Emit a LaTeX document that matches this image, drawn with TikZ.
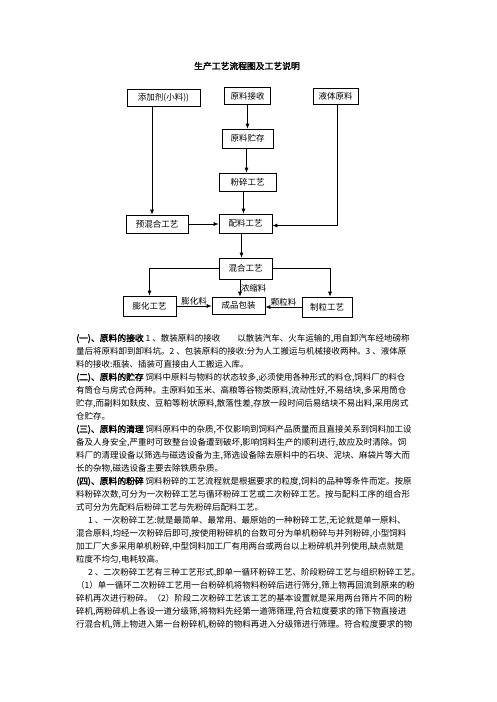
\documentclass[tikz,border=0pt]{standalone}
\usepackage{fontspec}
\setmainfont{Noto Sans CJK SC}
\newfontfamily\hdfont{Noto Sans CJK SC}[FakeBold=2]
\XeTeXlinebreaklocale "zh"
\XeTeXlinebreakskip=0pt plus 2pt minus 0.2pt
\XeTeXlinebreakpenalty=10000
\usetikzlibrary{arrows.meta}

\tikzset{
  box/.style={shape=rectangle,draw=black,line width=0.7pt,inner sep=0pt,font=\fontsize{8.5}{10}\selectfont},
  flow/.style={draw=black,line width=0.7pt,-{Latex[length=5pt,width=4pt]}},
  lbl/.style={inner sep=0.5pt,font=\fontsize{8.5}{10}\selectfont},
  full/.style={anchor=west,inner sep=0pt,text width=346pt,align=justify,font=\fontsize{8.5}{13}\selectfont},
  tail/.style={anchor=west,inner sep=0pt,font=\fontsize{8.5}{13}\selectfont}
}
\newcommand{\hd}[1]{{\hdfont\fontsize{8.8}{13}\selectfont #1}}
\newcommand{\fl}{\parfillskip=0pt\relax}

\begin{document}
\begin{tikzpicture}[x=1pt,y=-1pt]
    \useasboundingbox (0,0) rectangle (496,702);
    \node (title) [font=\hdfont\fontsize{8.8}{11}\selectfont] at (247,66) {生产工艺流程图及工艺说明};

    % flow chart
    \node (add) [box,minimum width=73,minimum height=17] at (163.5,97.5) {添加剂(小料))};
    \node (recv) [box,minimum width=46,minimum height=17] at (247.5,96) {原料接收};
    \node (liquid) [box,minimum width=45,minimum height=16] at (335.5,96) {液体原料};
    \node (store) [box,minimum width=51,minimum height=19] at (247.5,138.5) {原料贮存};
    \node (crush) [box,minimum width=57,minimum height=18] at (247.5,182) {粉碎工艺};
    \node (premix) [box,minimum width=62,minimum height=18] at (157,224) {预混合工艺};
    \node (batch) [box,minimum width=53,minimum height=19] at (245.5,223.5) {配料工艺};
    \node (mix) [box,minimum width=53,minimum height=21] at (245.5,268.5) {混合工艺};
    \node (puff) [box,minimum width=53,minimum height=20] at (149.5,306) {膨化工艺};
    \node (pack) [box,minimum width=53,minimum height=17] at (238.5,305.5) {成品包装};
    \node (pellet) [box,minimum width=50,minimum height=20] at (327,307) {制粒工艺};

    \draw[flow] (recv) -- (store);
    \draw[flow] ([xshift=-1]store.south) -- ([xshift=-1]store.south |- crush.north);
    \draw[flow] ([xshift=-4]crush.south) -- ([xshift=-4]crush.south |- batch.north);
    \draw[flow] ([xshift=-5]premix.north |- add.south) -- ([xshift=-5]premix.north);
    \draw[flow] (premix.east) -- (premix.east -| batch.west);
    \draw[flow] ([xshift=2]liquid.south) |- ([yshift=-2]batch.east);
    \draw[flow] ([xshift=-4]batch.south) -- ([xshift=-4]batch.south |- mix.north);
    \draw[flow] (mix.west) -| (puff.north);
    \draw[flow] (mix.east) -| ([xshift=3]pellet.north);
    \draw[flow] ([xshift=1.5]pack.north |- mix.south) -- node[lbl,right] (lconc) {浓缩料} ([xshift=1.5]pack.north);
    \draw[flow] (puff.east) -- node[lbl,above] (lpuff) {膨化料} (puff.east -| pack.west);
    \draw[flow] (pellet.west) -- node[lbl,above] (lpel) {颗粒料} (pellet.west -| pack.east);

    % text
    \node (l1) [full] at (76,338.5) {\fl\hd{(一)、原料的接收}~1~、散装原料的接收\nobreak\hspace{2em}以散装汽车、火车运输的,用自卸汽车经地磅称};
    \node (l2) [full] at (76,351.5) {\fl 量后将原料卸到卸料坑。2~、包装原料的接收:分为人工搬运与机械接收两种。3~、液体原};
    \node (l3) [tail] at (76,364.5) {料的接收:瓶装、插装可直接由人工搬运入库。};
    \node (l4) [full] at (76,377.5) {\fl\hd{(二)、原料的贮存}~饲料中原料与物料的状态较多,必须使用各种形式的料仓,饲料厂的料仓};
    \node (l5) [full] at (76,390.5) {\fl 有筒仓与房式仓两种。主原料如玉米、高粮等谷物类原料,流动性好,不易结块,多采用筒仓};
    \node (l6) [full] at (76,403.5) {\fl 贮存,而副料如麸皮、豆粕等粉状原料,散落性差,存放一段时间后易结块不易出料,采用房式};
    \node (l7) [tail] at (76,416.5) {仓贮存。};
    \node (l8) [full] at (76,429.5) {\fl\hd{(三)、原料的清理}~饲料原料中的杂质,不仅影响到饲料产品质量而且直接关系到饲料加工设};
    \node (l9) [full] at (76,442.5) {\fl 备及人身安全,严重时可致整台设备遭到破坏,影响饲料生产的顺利进行,故应及时清除。饲};
    \node (l10) [full] at (76,455.5) {\fl 料厂的清理设备以筛选与磁选设备为主,筛选设备除去原料中的石块、泥块、麻袋片等大而};
    \node (l11) [tail] at (76,468.5) {长的杂物,磁选设备主要去除铁质杂质。};
    \node (l12) [full] at (76,481.5) {\fl\hd{(四)、原料的粉碎}~饲料粉碎的工艺流程就是根据要求的粒度,饲料的品种等条件而定。按原};
    \node (l13) [full] at (76,494.5) {\fl 料粉碎次数,可分为一次粉碎工艺与循环粉碎工艺或二次粉碎工艺。按与配料工序的组合形};
    \node (l14) [tail] at (76,507.5) {式可分为先配料后粉碎工艺与先粉碎后配料工艺。};
    \node (l15) [full] at (76,520.5) {\fl\hspace*{12pt}1~、一次粉碎工艺:就是最简单、最常用、最原始的一种粉碎工艺,无论就是单一原料、};
    \node (l16) [full] at (76,533.5) {\fl 混合原料,均经一次粉碎后即可,按使用粉碎机的台数可分为单机粉碎与并列粉碎,小型饲料};
    \node (l17) [full] at (76,546.5) {\fl 加工厂大多采用单机粉碎,中型饲料加工厂有用两台或两台以上粉碎机并列使用,缺点就是};
    \node (l18) [tail] at (76,559.5) {粒度不均匀,电耗较高。};
    \node (l19) [full] at (76,572.5) {\fl\hspace*{12pt}2~、二次粉碎工艺有三种工艺形式,即单一循环粉碎工艺、阶段粉碎工艺与组织粉碎工艺。};
    \node (l20) [full] at (76,585.5) {\fl （1）单一循环二次粉碎工艺用一台粉碎机将物料粉碎后进行筛分,筛上物再回流到原来的粉};
    \node (l21) [full] at (76,598.5) {\fl 碎机再次进行粉碎。（2）阶段二次粉碎工艺该工艺的基本设置就是采用两台筛片不同的粉};
    \node (l22) [full] at (76,611.5) {\fl 碎机,两粉碎机上各设一道分级筛,将物料先经第一道筛筛理,符合粒度要求的筛下物直接进};
    \node (l23) [full] at (76,624.5) {\fl 行混合机,筛上物进入第一台粉碎机,粉碎的物料再进入分级筛进行筛理。符合粒度要求的物};
\end{tikzpicture}
\end{document}
